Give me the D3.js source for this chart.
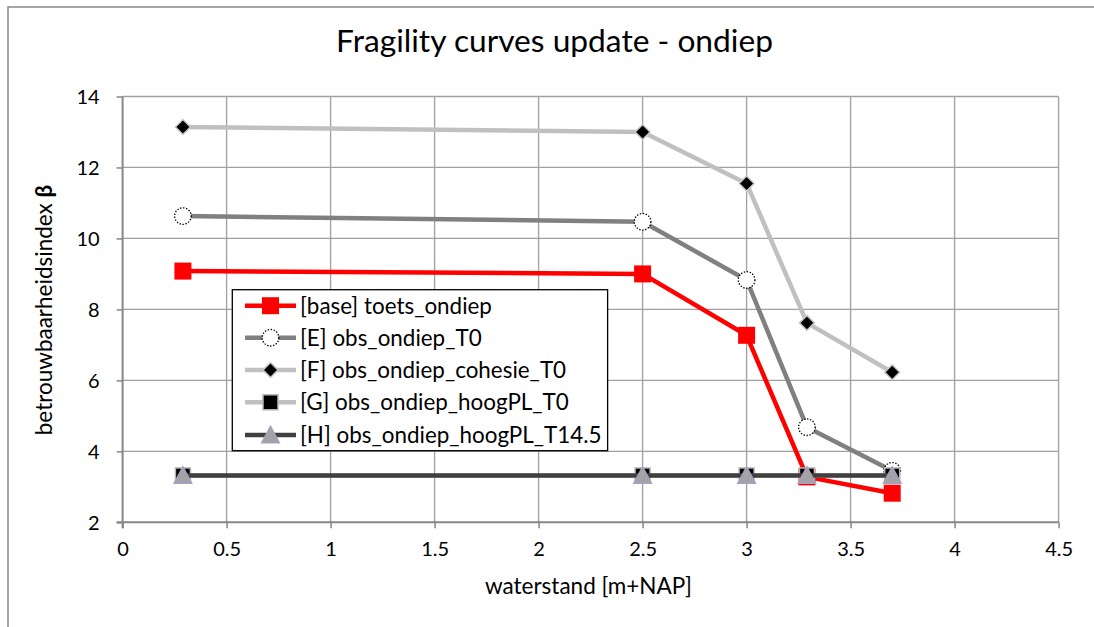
<!DOCTYPE html>
<html>
<head>
<meta charset="utf-8">
<script src="https://cdn.jsdelivr.net/npm/d3@7"></script>
<style>
  html, body { margin: 0; padding: 0; background: #fff; }
  svg { display: block; font-family: Lato, "Open Sans", sans-serif; }
</style>
</head>
<body>
<svg id="chart" width="1094" height="627"></svg>
<script>
// Water level (m+NAP) at which each reliability index was computed
const waterstand = [0.29, 2.5, 3.0, 3.29, 3.7];

// Reliability index beta per scenario
const baseToets   = [9.08, 9.0, 7.27, 3.28, 2.82];
const obsT0       = [10.63, 10.47, 8.83, 4.68, 3.45];
const obsCohesie  = [13.14, 13.0, 11.55, 7.62, 6.23];
const obsHoogPL   = [3.32, 3.32, 3.32, 3.32, 3.32];
const obsHoogPL145 = [3.32, 3.32, 3.32, 3.32, 3.32];

const seriesNames = [
  "[base] toets_ondiep",
  "[E] obs_ondiep_T0",
  "[F] obs_ondiep_cohesie_T0",
  "[G] obs_ondiep_hoogPL_T0",
  "[H] obs_ondiep_hoogPL_T14.5"
];

const xTicks = [0, 0.5, 1, 1.5, 2, 2.5, 3, 3.5, 4, 4.5];
const yTicks = [2, 4, 6, 8, 10, 12, 14];

const titleText = "Fragility curves update - ondiep";
const xTitle = "waterstand [m+NAP]";
const yTitle = "betrouwbaarheidsindex ";

const svg = d3.select("#chart");

// Outer chart frame
svg.append("rect")
  .attr("x", 8).attr("y", 7)
  .attr("width", 1200).attr("height", 800)
  .attr("fill", "none").attr("stroke", "#8a8a8a").attr("stroke-width", 1.5);

const x = d3.scaleLinear().domain([0, 4.5]).range([122.6, 1058.6]);
const y = d3.scaleLinear().domain([2, 14]).range([522.3, 96.5]);

// Fit a text element's font size so it spans a given width
function fitWidth(sel, target) {
  const node = sel.node();
  const fs = parseFloat(sel.attr("font-size"));
  const w = node.getComputedTextLength();
  sel.attr("font-size", (fs * target / w).toFixed(2));
}

// Gridlines
const grid = svg.append("g");
grid.selectAll("line.v").data(xTicks.slice(1)).join("line")
  .attr("x1", d => x(d)).attr("x2", d => x(d))
  .attr("y1", y(14)).attr("y2", y(2))
  .attr("stroke", "#a0a0a0").attr("stroke-width", 1.3);
grid.selectAll("line.h").data(yTicks.slice(1)).join("line")
  .attr("x1", x(0)).attr("x2", x(4.5))
  .attr("y1", d => y(d)).attr("y2", d => y(d))
  .attr("stroke", "#a0a0a0").attr("stroke-width", 1.3);

// Axes
const fmt = d3.format("~g");
const xAxis = svg.append("g")
  .attr("transform", `translate(0,${y(2)})`)
  .call(d3.axisBottom(x).tickValues(xTicks).tickFormat(fmt).tickSize(6).tickSizeOuter(0));
const yAxis = svg.append("g")
  .attr("transform", `translate(${x(0)},0)`)
  .call(d3.axisLeft(y).tickValues(yTicks).tickFormat(fmt).tickSize(6).tickSizeOuter(0));

[xAxis, yAxis].forEach(a => {
  a.select(".domain").attr("stroke", "#868686").attr("stroke-width", 2);
  a.selectAll(".tick line").attr("stroke", "#868686").attr("stroke-width", 1.5);
  a.selectAll(".tick text")
    .attr("fill", "#000").attr("font-size", 20)
    .attr("font-family", "Lato, sans-serif");
});
xAxis.select(".domain").attr("d", `M${x(0) - 6},0H${x(4.5)}`);
yAxis.select(".domain").attr("d", `M0,${y(14)}V${y(2) + 6}`);
xAxis.selectAll(".tick text").attr("y", 20).attr("dy", "0.71em");
yAxis.selectAll(".tick text").attr("x", -23).attr("dy", "0.35em");

// Series definitions
const series = [
  { name: seriesNames[0], values: baseToets,    color: "#ff0000", marker: "square" },
  { name: seriesNames[1], values: obsT0,        color: "#808080", marker: "circle" },
  { name: seriesNames[2], values: obsCohesie,   color: "#c0c0c0", marker: "diamond" },
  { name: seriesNames[3], values: obsHoogPL,    color: "#c0c0c0", marker: "blacksquare" },
  { name: seriesNames[4], values: obsHoogPL145, color: "#404040", marker: "triangle" }
];

function drawMarker(g, type, cx, cy) {
  if (type === "square") {
    g.append("rect").attr("x", cx - 8.5).attr("y", cy - 8.5)
      .attr("width", 17).attr("height", 17).attr("fill", "#ff0000");
  } else if (type === "circle") {
    g.append("circle").attr("cx", cx).attr("cy", cy).attr("r", 8.3)
      .attr("fill", "#fff").attr("stroke", "#000")
      .attr("stroke-width", 1.3).attr("stroke-dasharray", "1.4,1.6");
  } else if (type === "diamond") {
    g.append("path")
      .attr("d", `M${cx},${cy - 7.5}L${cx + 7.5},${cy}L${cx},${cy + 7.5}L${cx - 7.5},${cy}Z`)
      .attr("fill", "#000").attr("stroke", "#c8c8c8").attr("stroke-width", 1.5);
  } else if (type === "blacksquare") {
    g.append("rect").attr("x", cx - 7.5).attr("y", cy - 7.5)
      .attr("width", 15).attr("height", 15)
      .attr("fill", "#000").attr("stroke", "#b8b8b8").attr("stroke-width", 1.5);
  } else if (type === "triangle") {
    g.append("path")
      .attr("d", `M${cx},${cy - 9}L${cx + 9},${cy + 8}L${cx - 9},${cy + 8}Z`)
      .attr("fill", "#a3a3a6").attr("stroke", "#a99fc4").attr("stroke-width", 1.2);
  }
}

const line = d3.line().x((d, i) => x(waterstand[i])).y(d => y(d));

const plot = svg.append("g");
series.forEach(s => {
  const g = plot.append("g");
  g.append("path").datum(s.values)
    .attr("d", line)
    .attr("fill", "none").attr("stroke", s.color)
    .attr("stroke-width", 4.5).attr("stroke-linejoin", "round");
  s.values.forEach((v, i) => drawMarker(g, s.marker, x(waterstand[i]), y(v)));
});

// Legend
const legX = 232.3, legY = 289.7, legH = 161;
const rowY = [305.7, 337.7, 370, 402.3, 435];
const legend = svg.append("g");
const legBox = legend.append("rect")
  .attr("x", legX).attr("y", legY).attr("height", legH)
  .attr("fill", "#fff").attr("stroke", "#000").attr("stroke-width", 1.3);

const legTexts = [];
series.forEach((s, i) => {
  const cy = rowY[i];
  legend.append("line")
    .attr("x1", 245).attr("x2", 296).attr("y1", cy).attr("y2", cy)
    .attr("stroke", s.color).attr("stroke-width", 4.5);
  drawMarker(legend, s.marker, 270.5, cy);
  legTexts.push(legend.append("text")
    .attr("x", 300).attr("y", cy).attr("dy", "0.35em")
    .attr("font-size", 20).attr("fill", "#000")
    .text(s.name));
});
fitWidth(legTexts[0], 192);
const legFs = legTexts[0].attr("font-size");
legTexts.forEach(t => t.attr("font-size", legFs));
const maxW = d3.max(legTexts, t => t.node().getComputedTextLength());
legBox.attr("width", 300 + maxW + 6 - legX);

// Title
const title = svg.append("text")
  .attr("x", 554.5).attr("y", 52).attr("text-anchor", "middle")
  .attr("font-size", 24).attr("fill", "#000")
  .text(titleText);
fitWidth(title, 437);

// Axis titles
const xt = svg.append("text")
  .attr("x", 588.5).attr("y", 594).attr("text-anchor", "middle")
  .attr("font-size", 20).attr("fill", "#000")
  .text(xTitle);
fitWidth(xt, 207);

const yt = svg.append("text")
  .attr("transform", "translate(52,310) rotate(-90)")
  .attr("text-anchor", "middle")
  .attr("font-size", xt.attr("font-size")).attr("fill", "#000");
yt.append("tspan").text(yTitle);
yt.append("tspan").attr("font-weight", "bold").text("β");
</script>
</body>
</html>
